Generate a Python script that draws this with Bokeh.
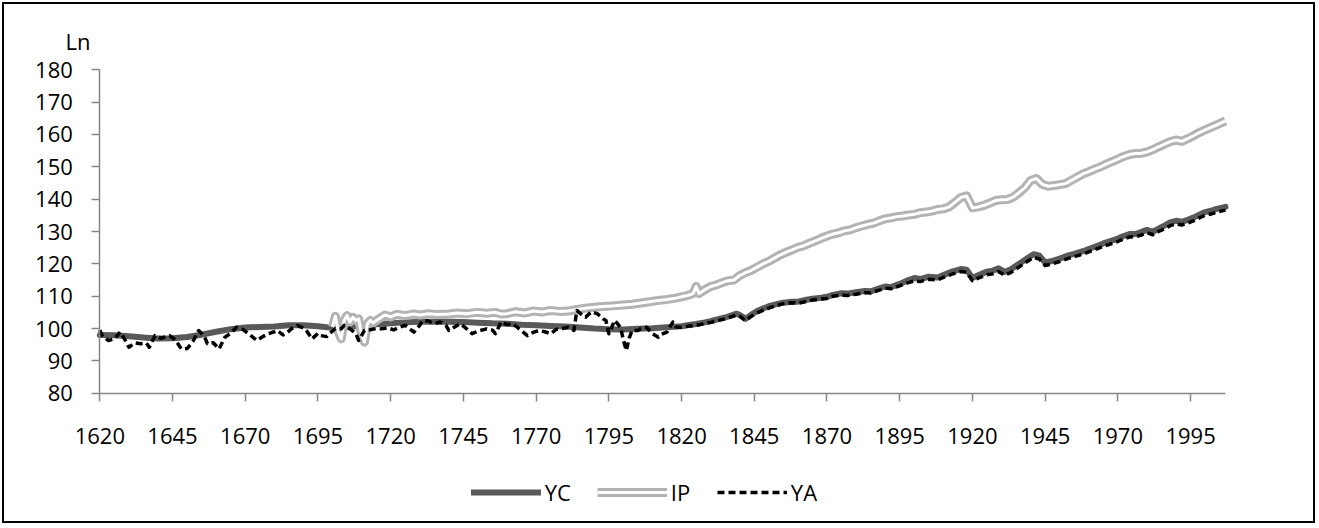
from bokeh.plotting import figure
from bokeh.models import Range1d, FixedTicker, Legend, LegendItem, Label
from bokeh.embed import file_html
from bokeh.resources import INLINE

# ---------------- data ----------------
x_ticks = [1620, 1645, 1670, 1695, 1720, 1745, 1770, 1795, 1820, 1845, 1870, 1895, 1920, 1945, 1970, 1995]
y_ticks = [80, 90, 100, 110, 120, 130, 140, 150, 160, 170, 180]

yc_years = [1620, 1625, 1630, 1635, 1640, 1645, 1650, 1655, 1660, 1665, 1670, 1675, 1680, 1685, 1690,
            1695, 1700, 1705, 1710, 1715, 1720, 1725, 1730, 1735, 1740, 1745, 1750, 1755, 1760, 1765,
            1770, 1775, 1780, 1785, 1790, 1795, 1800, 1805, 1810, 1815, 1820, 1822, 1825, 1828, 1830,
            1833, 1835, 1837, 1839, 1840, 1842, 1844, 1846, 1848, 1850, 1853, 1855, 1858, 1860, 1863,
            1865, 1868, 1870, 1872, 1875, 1877, 1880, 1883, 1885, 1888, 1890, 1892, 1895, 1898, 1900,
            1902, 1905, 1908, 1910, 1913, 1916, 1918, 1920, 1922, 1925, 1927, 1929, 1931, 1933, 1935,
            1937, 1939, 1941, 1943, 1945, 1947, 1950, 1953, 1955, 1958, 1960, 1963, 1965, 1968, 1970,
            1972, 1974, 1976, 1978, 1980, 1982, 1984, 1986, 1988, 1990, 1992, 1994, 1996, 1998, 2000,
            2002, 2004, 2007]
yc_values = [98.0, 97.9, 97.6, 97.2, 96.9, 97.0, 97.4, 98.1, 99.0, 99.8, 100.3, 100.5, 100.6, 101.0, 101.0,
             100.7, 100.2, 100.4, 100.9, 101.3, 101.6, 101.9, 102.1, 102.1, 102.1, 102.0, 101.8, 101.6, 101.5, 101.2,
             101.0, 100.8, 100.6, 100.3, 100.0, 99.8, 99.7, 99.9, 100.1, 100.4, 100.7, 101.0, 101.4, 101.9, 102.3,
             103.0, 103.4, 104.0, 104.6, 104.2, 103.0, 104.3, 105.4, 106.2, 106.9, 107.6, 108.0, 108.3, 108.3, 108.9,
             109.2, 109.5, 109.8, 110.4, 110.9, 110.8, 111.2, 111.6, 111.5, 112.4, 113.0, 112.8, 113.8, 115.0, 115.6,
             115.3, 116.0, 115.8, 116.5, 117.6, 118.4, 118.2, 115.6, 116.5, 117.6, 117.9, 118.6, 117.5, 118.2, 119.4,
             120.6, 121.8, 123.0, 122.5, 120.4, 120.8, 121.6, 122.6, 123.1, 123.9, 124.6, 125.6, 126.3, 127.2, 127.8,
             128.6, 129.2, 129.2, 129.8, 130.5, 129.9, 130.9, 131.8, 132.8, 133.3, 133.0, 133.6, 134.3, 135.2, 136.0,
             136.4, 137.0, 137.6]

ip_years = [1700, 1701, 1702, 1703, 1704, 1705, 1706, 1707, 1708, 1709, 1710, 1711, 1712, 1713, 1714,
            1716, 1718, 1720, 1722, 1725, 1728, 1730, 1733, 1736, 1740, 1743, 1746, 1750, 1753, 1756,
            1758, 1760, 1763, 1766, 1769, 1772, 1775, 1778, 1781, 1784, 1787, 1790, 1793, 1796, 1800,
            1803, 1806, 1809, 1812, 1815, 1818, 1820, 1822, 1824, 1825, 1826, 1828, 1830, 1832, 1834,
            1836, 1838, 1840, 1842, 1844, 1846, 1848, 1850, 1852, 1854, 1856, 1858, 1860, 1862, 1864,
            1866, 1868, 1870, 1872, 1874, 1876, 1878, 1880, 1882, 1884, 1886, 1888, 1890, 1892, 1894,
            1896, 1898, 1900, 1902, 1904, 1906, 1908, 1910, 1912, 1914, 1916, 1918, 1920, 1922, 1924,
            1926, 1928, 1930, 1932, 1934, 1936, 1938, 1940, 1942, 1944, 1946, 1948, 1950, 1952, 1954,
            1956, 1958, 1960, 1962, 1964, 1966, 1968, 1970, 1972, 1974, 1976, 1978, 1980, 1982, 1984,
            1986, 1988, 1990, 1992, 1994, 1996, 1998, 2000, 2002, 2004, 2007]
ip_values = [100.5, 103.8, 99.0, 96.8, 102.5, 104.0, 102.0, 103.5, 102.5, 103.0, 98.0, 95.8, 101.5, 102.5, 101.8,
             103.0, 104.2, 103.6, 104.4, 104.0, 104.5, 104.2, 104.6, 104.3, 104.5, 104.8, 104.6, 105.0, 104.7, 105.0,
             104.5, 104.6, 105.2, 104.8, 105.4, 105.1, 105.6, 105.3, 105.4, 105.9, 106.3, 106.6, 106.8, 107.0, 107.3,
             107.5, 107.9, 108.3, 108.7, 109.0, 109.4, 109.8, 110.2, 110.8, 113.0, 110.8, 112.0, 113.0, 113.5, 114.2,
             114.8, 115.0, 116.4, 117.3, 118.0, 119.0, 120.0, 120.8, 121.8, 122.8, 123.6, 124.3, 125.1, 125.6, 126.4,
             127.1, 127.9, 128.6, 129.2, 129.6, 130.2, 130.5, 131.2, 131.7, 132.2, 132.6, 133.3, 133.9, 134.2, 134.6,
             134.8, 135.1, 135.3, 135.8, 136.0, 136.3, 136.8, 137.0, 137.6, 139.0, 140.5, 141.0, 137.3, 137.6, 138.1,
             138.8, 139.6, 139.8, 139.9, 140.6, 142.0, 143.5, 145.8, 146.4, 144.6, 144.0, 144.2, 144.5, 144.8, 145.8,
             146.8, 147.8, 148.5, 149.3, 150.0, 150.8, 151.6, 152.4, 153.2, 153.8, 154.1, 154.2, 154.6, 155.3, 156.2,
             157.0, 157.8, 158.3, 157.9, 158.7, 159.6, 160.6, 161.4, 162.2, 163.0, 164.2]

ya_years = [1620, 1621, 1623, 1625, 1627, 1629, 1630, 1632, 1634, 1636, 1637, 1639, 1641, 1644, 1646,
            1648, 1650, 1652, 1654, 1656, 1657, 1659, 1661, 1663, 1665, 1667, 1669, 1671, 1674, 1676,
            1678, 1680, 1681, 1683, 1684, 1686, 1688, 1690, 1691, 1693, 1695, 1696, 1698, 1699, 1701,
            1703, 1704, 1706, 1708, 1709, 1711, 1713, 1715, 1717, 1719, 1721, 1723, 1725, 1728, 1730,
            1731, 1733, 1735, 1737, 1739, 1740, 1742, 1744, 1746, 1748, 1750, 1753, 1755, 1756, 1758,
            1760, 1762, 1764, 1767, 1769, 1771, 1773, 1775, 1777, 1779, 1781, 1783, 1784, 1786, 1787,
            1789, 1791, 1793, 1794, 1795, 1797, 1799, 1800, 1801, 1802, 1803, 1805, 1806, 1808, 1810,
            1812, 1813, 1815, 1816, 1817, 1818, 1820, 1822, 1825, 1828, 1830, 1833, 1835, 1837, 1839,
            1840, 1842, 1844, 1846, 1848, 1850, 1853, 1855, 1858, 1860, 1863, 1865, 1868, 1870, 1872,
            1875, 1877, 1880, 1883, 1885, 1888, 1890, 1892, 1895, 1898, 1900, 1902, 1905, 1908, 1910,
            1913, 1916, 1918, 1920, 1922, 1925, 1927, 1929, 1931, 1933, 1935, 1937, 1939, 1941, 1943,
            1945, 1947, 1950, 1953, 1955, 1958, 1960, 1963, 1965, 1968, 1970, 1972, 1974, 1976, 1978,
            1980, 1982, 1984, 1986, 1988, 1990, 1992, 1994, 1996, 1998, 2000, 2002, 2004, 2007]
ya_values = [99.5, 97.5, 96.3, 96.8, 98.9, 96.0, 94.2, 95.6, 95.3, 95.5, 94.2, 97.8, 97.0, 97.8, 96.5,
             93.7, 93.8, 96.0, 99.4, 97.5, 95.3, 95.6, 93.7, 97.3, 98.5, 100.4, 99.8, 98.5, 96.3, 97.5,
             98.4, 99.0, 99.4, 98.0, 98.4, 100.0, 100.9, 100.2, 99.4, 96.8, 98.5, 97.8, 97.5, 98.4, 100.0,
             99.9, 101.0, 99.9, 98.5, 96.3, 99.4, 99.6, 100.0, 99.9, 100.2, 99.6, 100.4, 101.0, 98.9, 101.0,
             102.5, 102.3, 101.5, 102.0, 101.0, 99.4, 100.5, 101.5, 100.0, 98.4, 99.2, 99.9, 99.5, 98.4, 102.0,
             101.2, 101.5, 100.0, 97.8, 98.8, 99.4, 99.0, 98.4, 99.8, 100.0, 100.4, 99.4, 105.6, 104.0, 103.5,
             105.2, 104.6, 103.0, 102.5, 98.4, 102.5, 100.4, 96.5, 93.2, 97.0, 99.4, 99.4, 100.0, 100.4, 98.4,
             97.3, 98.2, 98.9, 100.5, 102.0, 100.5, 100.4, 100.7, 101.0, 101.5, 101.9, 102.6, 103.0, 103.6, 104.2,
             103.8, 102.4, 103.8, 104.8, 105.6, 106.3, 107.2, 107.7, 108.0, 107.8, 108.4, 108.8, 109.1, 109.3, 110.0,
             110.3, 110.2, 110.6, 111.1, 111.0, 111.9, 112.5, 112.3, 113.2, 114.2, 114.7, 114.5, 115.2, 115.0, 115.8,
             116.8, 117.6, 117.4, 114.8, 115.6, 116.6, 116.9, 117.6, 116.5, 117.2, 118.4, 119.6, 120.8, 122.0, 121.5,
             119.5, 119.9, 120.7, 121.7, 122.2, 123.0, 123.7, 124.7, 125.4, 126.3, 126.9, 127.7, 128.3, 128.4, 128.9,
             129.6, 129.0, 130.0, 130.8, 131.8, 132.3, 132.0, 132.6, 133.3, 134.2, 135.0, 135.4, 136.0, 136.6]

series_names = ["YC", "IP", "YA"]
y_axis_title = "Ln"

# ---------------- layout constants (pixels) ----------------
W, H = 1313, 521          # canvas inside the 2px chart border
AX_LEFT = 95.3            # canvas x of the value axis
AX_RIGHT = 1221.0         # canvas x of the last category
AX_TOP = 65.3             # canvas y of 180
AX_BOTTOM = 388.7         # canvas y of 80
X0, X1 = 1620, 2007
Y0, Y1 = 80, 180
px_x = (AX_RIGHT - AX_LEFT) / (X1 - X0)
px_y = (AX_BOTTOM - AX_TOP) / (Y1 - Y0)

FONT = "Open Sans"
FS = "22px"
AXIS_COLOR = "#868686"

# The frame fills the whole canvas so that legend and "Ln" are not clipped;
# the axes are pinned to 1620 / 80 and bounded to the data extent.
p = figure(width=W, height=H, output_backend="svg", toolbar_location=None,
           x_range=Range1d(X0 - AX_LEFT / px_x, X1 + (W - AX_RIGHT) / px_x),
           y_range=Range1d(Y0 - (H - AX_BOTTOM) / px_y, Y1 + AX_TOP / px_y),
           min_border=0, min_border_left=0, min_border_right=0,
           min_border_top=0, min_border_bottom=0,
           background_fill_color="white", border_fill_color="white")
p.styles = {"margin-left": "2px", "margin-top": "2px", "border": "2px solid black"}
p.outline_line_color = None
p.grid.visible = False
p.title.visible = False

for ax in (p.xaxis[0], p.yaxis[0]):
    ax.axis_line_color = AXIS_COLOR
    ax.axis_line_width = 1.5
    ax.major_tick_line_color = AXIS_COLOR
    ax.major_tick_line_width = 1.5
    ax.major_tick_in = 0
    ax.major_tick_out = 8
    ax.minor_tick_line_color = None
    ax.major_label_text_font = FONT
    ax.major_label_text_font_size = FS
    ax.major_label_text_color = "black"

p.xaxis.ticker = FixedTicker(ticks=x_ticks)
p.yaxis.ticker = FixedTicker(ticks=y_ticks)
p.xaxis.bounds = (X0, X1)
p.yaxis.bounds = (Y0, Y1)
p.xaxis.fixed_location = Y0
p.yaxis.fixed_location = X0
p.xaxis.major_label_standoff = 27
p.yaxis.major_label_standoff = 19

yc = p.line(yc_years, yc_values, line_color="#595959", line_width=6,
            line_cap="round", line_join="round")
ip_outer = p.line(ip_years, ip_values, line_color="#b3b3b3", line_width=9, line_join="round")
ip_inner = p.line(ip_years, ip_values, line_color="white", line_width=3, line_join="round")
ya = p.line(ya_years, ya_values, line_color="black", line_width=3.5, line_dash="7 4",
            line_join="round")

legend = Legend(items=[LegendItem(label=series_names[0], renderers=[yc]),
                       LegendItem(label=series_names[1], renderers=[ip_outer, ip_inner]),
                       LegendItem(label=series_names[2], renderers=[ya])],
                orientation="horizontal", location=(466.7, 18.3),
                glyph_width=70, glyph_height=30, label_height=30, label_standoff=4, spacing=26,
                padding=0, margin=0, border_line_color=None, background_fill_alpha=0,
                label_text_font=FONT, label_text_font_size=FS, label_text_color="black")
p.add_layout(legend, "center")

p.add_layout(Label(x=X0 - 34.3 / px_x, y=Y1 + (AX_TOP - 36.5) / px_y, text=y_axis_title,
                   text_font=FONT, text_font_size=FS, text_color="black",
                   text_baseline="alphabetic"))

open("out.html", "w").write(file_html(p, INLINE))
